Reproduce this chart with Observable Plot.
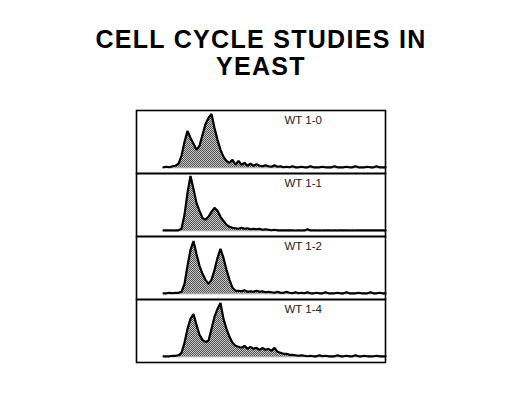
<!DOCTYPE html>
<html>
<head>
<meta charset="utf-8">
<script src="https://cdn.jsdelivr.net/npm/d3@7"></script>
<script src="https://cdn.jsdelivr.net/npm/@observablehq/plot@0.6"></script>
<style>
  html, body { margin: 0; padding: 0; background: #fff; }
  body { width: 522px; height: 394px; overflow: hidden; }
  #title { font-family: "Liberation Sans", Arial, sans-serif; font-weight: bold; font-size: 25px;
           letter-spacing: 1.3px; line-height: 27px; text-align: center; padding-top: 26px;
           height: 55px; color: #000; }
  #chart svg { display: block; }
</style>
</head>
<body>
<div id="title">CELL CYCLE STUDIES IN<br>YEAST</div>
<div id="chart"></div>
<script>
// Panel labels
const panels = ["WT 1-0", "WT 1-1", "WT 1-2", "WT 1-4"];

// Histogram channels (DNA content bins)
const channels = [27,30,33,36,39,42,45,48,51,54,57,60,63,66,69,72,75,78,81,84,87,90,93,96,99,
  102,105,108,111,114,117,120,123,126,129,132,135,138,141,144,147,150,153,156,159,162,165,168,
  171,174,177,180,183,186,189,192,195,198,201,204,207,210,213,216,219,222,225,228,231,234,237,
  240,243,246,249];

// Cell counts per channel for each sample
const wt10 = [0.5,1,0.5,1.5,2,4,12,26,37,30,24,18,22,33,44,50,54,40,28,18,11,7,5,8,3,
  7,3,5,2,4,2,3.5,2,1.5,2.5,1.5,1,2.5,1,1.5,0.5,1,0.5,1.5,0.5,0.5,1,0.5,
  0.5,1.5,0.5,0.5,0.5,1,0.5,0.5,0.5,1.5,0.5,0.5,0.5,1,0.5,0.5,1.5,0.5,0.5,0.5,1,0.5,0.5,
  1.5,0.5,0.5,0.5];
const wt11 = [0.3,0.3,0.3,0.3,0.5,0.5,2,16,38,55,42,28,20,13,11,14,19,23,20,14,10,6,4,3,2.5,
  2,3,2,2.5,1.5,2,1.5,2,1,1.5,1,0.5,1,0.5,0.5,0.5,0.5,0.5,0.5,0.3,0.5,0.3,0.3,
  1.5,0.3,0.3,0.3,0.5,0.3,0.3,0.3,0.3,0.5,0.3,0.3,0.3,0.3,0.3,0.5,0.3,0.3,0.3,0.3,0.3,0.3,0.3,
  0.3,0.3,0.3,0.3];
const wt12 = [0.5,0.5,1,0.5,1,1,2,10,28,44,53,40,28,20,14,10,14,24,36,45,36,24,14,6,3,
  3,2.5,3.5,2,2.5,2,3,2,2.5,1.5,2,1.5,1,2,1,1,2,1,0.5,1.5,0.5,1,0.5,
  1.5,0.5,0.5,1,0.5,0.5,1.5,0.5,0.5,0.5,1,0.5,0.5,1.5,0.5,0.5,0.5,1,0.5,0.5,0.5,1.5,0.5,
  0.5,1,0.5,0.5];
const wt14 = [0.5,0.5,0.5,1,1,1.5,4,14,28,38,43,32,22,17,15,16,28,40,48,54,38,28,20,14,11,
  10,9,11,8,10,8,9,7,9,7,8,6,9,5,4,3,3,2,2,1.5,1,1.5,1,
  0.5,1,0.5,0.5,1.5,0.5,1,0.5,0.5,0.5,1.5,0.5,0.5,1,0.5,0.5,1.5,0.5,0.5,1,0.5,0.5,0.5,
  1,0.5,0.5,0.5];

const series = [wt10, wt11, wt12, wt14];
const rows = [];
series.forEach((vals, k) => {
  vals.forEach((v, i) => rows.push({panel: panels[k], ch: channels[i], v}));
});
const labels = panels.map(p => ({panel: p}));

const plot = Plot.plot({
  width: 522,
  height: 313,
  marginLeft: 136,
  marginRight: 137,
  marginTop: 28,
  marginBottom: 32,
  style: {background: "#fff"},
  x: {domain: [0, 249], axis: null},
  y: {domain: [-5.75, 57.5], axis: null},
  fy: {domain: panels, padding: 0, axis: null},
  marks: [
    Plot.ruleY([0], {x1: 27, x2: 249, stroke: "#999", strokeWidth: 1}),
    Plot.areaY(rows, {x: "ch", y: "v", fy: "panel", fill: "url(#dots)"}),
    Plot.lineY(rows, {x: "ch", y: "v", fy: "panel", stroke: "#000", strokeWidth: 2.2,
      strokeLinejoin: "miter"}),
    Plot.text(labels, {fy: "panel", text: "panel", frameAnchor: "top-left", dx: 148, dy: 5,
      lineAnchor: "top", textAnchor: "start", fontSize: 11.5, fill: "#222",
      fontFamily: "Liberation Sans, Arial, sans-serif"}),
    Plot.frame({stroke: "#000", strokeWidth: 1.6})
  ]
});
plot.insertAdjacentHTML("afterbegin",
  '<defs><pattern id="dots" width="2" height="2" patternUnits="userSpaceOnUse">' +
  '<rect width="2" height="2" fill="#c4c4c4"/><rect width="1" height="1" fill="#555"/>' +
  '<rect x="1" y="1" width="1" height="1" fill="#555"/></pattern></defs>');
document.getElementById("chart").appendChild(plot);
</script>
</body>
</html>
